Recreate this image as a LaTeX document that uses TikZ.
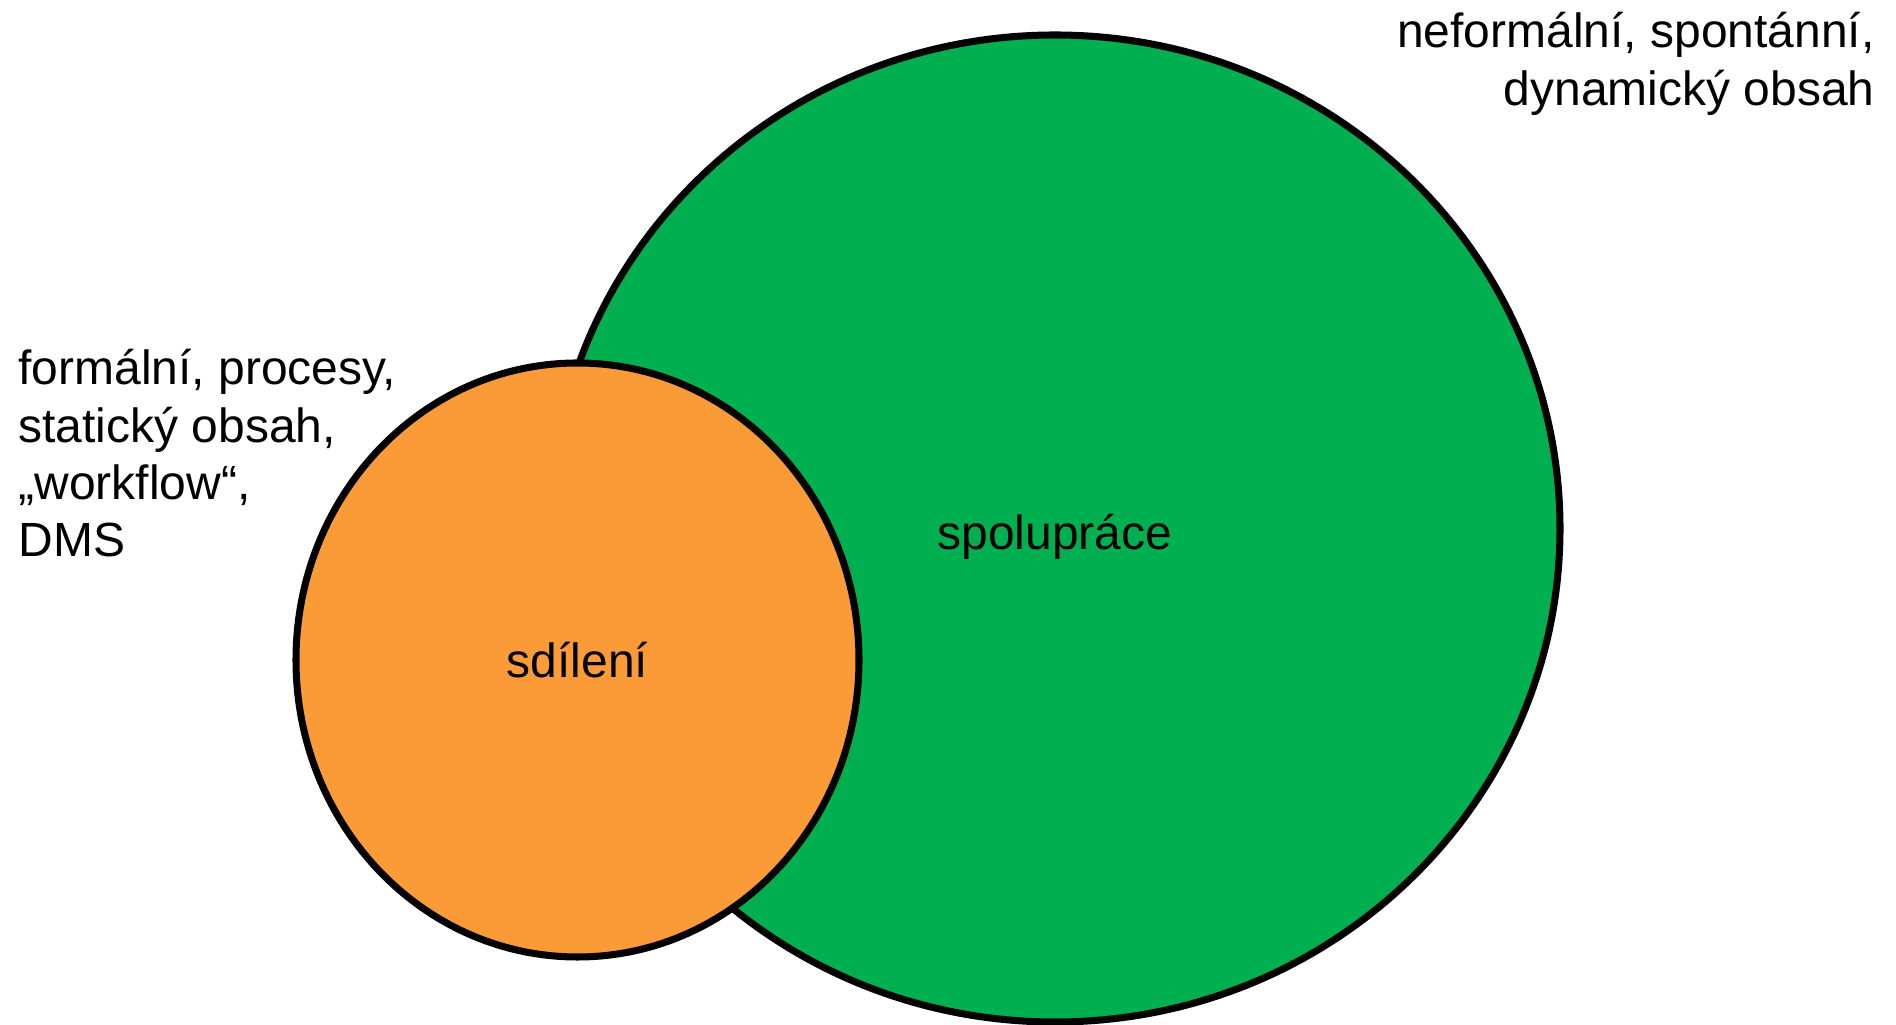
\documentclass[tikz,border=0pt]{standalone}
\usepackage{fontspec}
\setmainfont{Liberation Sans}
\usetikzlibrary{shapes.geometric}
\definecolor{shareorange}{HTML}{FA9B37}
\definecolor{collabgreen}{HTML}{00B050}

\begin{document}
\begin{tikzpicture}[line width=2pt,font=\fontsize{13.65}{16.3}\selectfont]
    \tikzstyle{set}=[ellipse,draw=black,inner sep=0pt]
    \tikzstyle{remark}=[inner sep=0pt]
    \useasboundingbox (0,0) rectangle (18.96,10.25);

    \node[set,fill=collabgreen,minimum width=10.1cm,minimum height=9.87cm] (Collab) at (10.55,4.965) {\raisebox{-0.085cm}[\height][\depth]{spolupráce}};
    \node[set,fill=shareorange,minimum width=5.63cm,minimum height=5.94cm] (Share) at (5.775,3.65) {sdílení};

    \node[remark,align=right,anchor=north east] (Informal) at (18.78,10.16) {neformální, spontánní,\\dynamický obsah};
    \node[remark,align=left,anchor=north west] (Formal) at (0.15,6.79) {formální, procesy,\\statický obsah,\\„workflow“,\\DMS};
\end{tikzpicture}
\end{document}
